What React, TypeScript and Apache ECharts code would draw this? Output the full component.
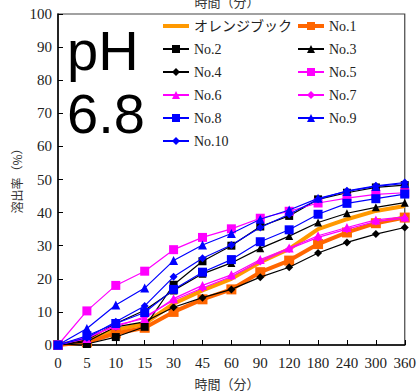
import React, { useEffect, useRef } from "react";
import * as echarts from "echarts";

const categories = ["0", "5", "10", "15", "30", "45", "60", "90", "120", "180", "240", "300", "360"];
const yTicks = [0, 10, 20, 30, 40, 50, 60, 70, 80, 90, 100];

const orangeBook = [0, 1.5, 4.5, 6.5, 12.5, 16.5, 20, 25, 29, 35, 38, 40.5, 42];
const no1 = [0, 0.8, 3.5, 5.2, 10.0, 13.8, 16.8, 22.0, 25.5, 30.5, 34, 36.8, 38.5];
const no2 = [0, 0.3, 2.4, 5.5, 18.2, 25.3, 30.0, 35.8, 39.0, 44, 46, 47.6, 48.3];
const no3 = [0, 1.5, 6.5, 10.5, 16.5, 21.5, 24.8, 29.2, 32.9, 37, 39.8, 41.6, 43];
const no4 = [0, 1.0, 5.5, 7.0, 11.4, 14.3, 16.8, 20.5, 23.5, 27.8, 31.0, 33.5, 35.5];
const no5 = [0, 10.3, 18.0, 22.3, 28.8, 32.5, 35.1, 38.3, 40.4, 42.9, 44.4, 45.5, 46.0];
const no6 = [0, 2, 6, 8, 14, 18, 21.2, 25.8, 29.3, 33, 35.5, 37.8, 38.7];
const no7 = [0, 2.5, 5.5, 8.5, 13.5, 17.2, 20.7, 25.2, 29, 32.5, 35, 37.3, 38.3];
const no8 = [0, 2.8, 6.5, 9.8, 16.8, 22.0, 25.8, 31.2, 34.8, 39.5, 42.8, 44.2, 45.6];
const no9 = [0, 5.0, 12.1, 17.2, 25.5, 30.2, 33.7, 38.0, 40.8, 44.3, 46.4, 47.9, 48.8];
const no10 = [0, 2.2, 7.0, 11.8, 20.6, 26.2, 30.2, 35.5, 39.5, 44.0, 46.6, 48.1, 49.1];

const seriesNames = ["オレンジブック", "No.1", "No.2", "No.3", "No.4", "No.5", "No.6", "No.7", "No.8", "No.9", "No.10"];
const legendCol1 = ["オレンジブック", "No.2", "No.4", "No.6", "No.8", "No.10"];
const legendCol2 = ["No.1", "No.3", "No.5", "No.7", "No.9"];

const SERIF = "'Liberation Serif', 'Noto Sans CJK JP', serif";
const JP = "'Noto Sans CJK JP', sans-serif";

export default function App() {
  const ref = useRef<HTMLDivElement>(null);
  useEffect(() => {
    if (!ref.current) return;
    const chart = echarts.init(ref.current, undefined, { renderer: "svg" });
    const dataSets = [orangeBook, no1, no2, no3, no4, no5, no6, no7, no8, no9, no10];
    const styles = [
      { color: "#FF9900", symbol: "none", size: 0, width: 4 },
      { color: "#FF6600", symbol: "rect", size: 10, width: 4 },
      { color: "#000000", symbol: "rect", size: 8, width: 1.2 },
      { color: "#000000", symbol: "triangle", size: 8, width: 1.2 },
      { color: "#000000", symbol: "diamond", size: 8, width: 1.2 },
      { color: "#FF00FF", symbol: "rect", size: 9, width: 1.2 },
      { color: "#FF00FF", symbol: "triangle", size: 9, width: 1.2 },
      { color: "#FF00FF", symbol: "diamond", size: 8, width: 1.2 },
      { color: "#0000FF", symbol: "rect", size: 9, width: 1.2 },
      { color: "#0000FF", symbol: "triangle", size: 9, width: 1.2 },
      { color: "#0000FF", symbol: "diamond", size: 8, width: 1.2 },
    ];
    const series = seriesNames.map((name, i) => ({
      name,
      type: "line",
      data: dataSets[i],
      symbol: styles[i].symbol,
      symbolSize: styles[i].size,
      showSymbol: styles[i].symbol !== "none",
      itemStyle: { color: styles[i].color },
      lineStyle: { color: styles[i].color, width: styles[i].width },
      z: 2 + i,
    }));
    const legendBase = {
      orient: "vertical",
      top: 18,
      padding: 0,
      itemGap: 7,
      itemWidth: 26,
      itemHeight: 10,
      selectedMode: false,
      textStyle: { fontFamily: SERIF, fontSize: 14, color: "#222", lineHeight: 16 },
    };
    chart.setOption({
      animation: false,
      backgroundColor: "#ffffff",
      grid: { left: 58, right: 12, top: 14, bottom: 47, show: true, borderColor: "#444", borderWidth: 1.2 },
      legend: [
        {
          ...legendBase,
          left: 161,
          data: legendCol1.map((n) =>
            n === "オレンジブック" ? { name: n, itemStyle: { opacity: 0 }, lineStyle: { width: 4 } } : n
          ),
        },
        {
          ...legendBase,
          left: 296,
          data: legendCol2.map((n) => (n === "No.1" ? { name: n, lineStyle: { width: 4 } } : n)),
        },
      ],
      xAxis: {
        type: "category",
        data: categories,
        boundaryGap: false,
        axisLine: { lineStyle: { color: "#000", width: 1.5 } },
        axisTick: { inside: true, length: 5, lineStyle: { color: "#000" } },
        axisLabel: { fontFamily: SERIF, fontSize: 15, color: "#222", margin: 10, interval: 0 },
        splitLine: { show: false },
      },
      yAxis: {
        type: "value",
        min: yTicks[0],
        max: yTicks[yTicks.length - 1],
        interval: 10,
        axisLine: { show: true, lineStyle: { color: "#000", width: 1.5 } },
        axisTick: { show: true, inside: true, length: 5, lineStyle: { color: "#000" } },
        axisLabel: { fontFamily: SERIF, fontSize: 15, color: "#222", margin: 6 },
        splitLine: { show: false },
      },
      graphic: [
        { type: "text", left: 67, top: 51 - 29, z: 100, style: { text: "pH", font: "56px 'Liberation Sans', sans-serif", fill: "#000" } },
        { type: "text", left: 67, top: 114 - 29, z: 100, style: { text: "6.8", font: "56px 'Liberation Sans', sans-serif", fill: "#000" } },
        { type: "text", x: 227, y: 383, z: 100, style: { text: "時間（分）", font: `13px ${JP}`, fill: "#333", textAlign: "center", textVerticalAlign: "middle" } },
        { type: "text", x: 227, y: 1, z: 100, style: { text: "時間（分）", font: `13px ${JP}`, fill: "#333", textAlign: "center", textVerticalAlign: "middle" } },
        { type: "text", x: 16, y: 178, rotation: Math.PI / 2, z: 100, style: { text: "溶出率（%）", font: `12px ${JP}`, fill: "#333", textAlign: "center", textVerticalAlign: "middle" } },
      ],
      series,
    });
    return () => chart.dispose();
  }, []);
  return <div ref={ref} style={{ position: "fixed", left: 0, top: 0, width: 419, height: 392, background: "#fff" }} />;
}
